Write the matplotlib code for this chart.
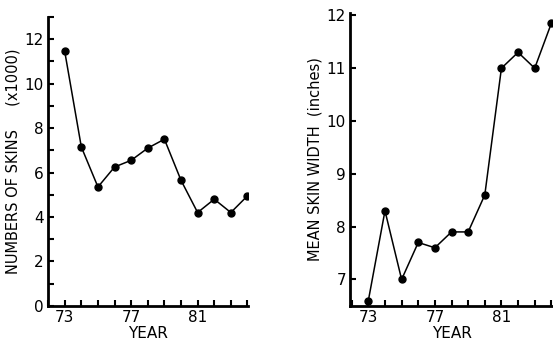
import matplotlib
matplotlib.use("Agg")
import matplotlib.pyplot as plt
from matplotlib.ticker import MultipleLocator, FixedLocator

plt.rcParams['font.family'] = ['DejaVu Sans']

years = [73, 74, 75, 76, 77, 78, 79, 80, 81, 82, 83, 84]
skins = [11.45, 7.15, 5.35, 6.25, 6.55, 7.1, 7.5, 5.65, 4.2, 4.8, 4.2, 4.95]
width = [6.6, 8.3, 7.0, 7.7, 7.6, 7.9, 7.9, 8.6, 11.0, 11.3, 11.0, 11.85]
year_labels = [73, 77, 81]

fig = plt.figure(figsize=(5.53, 3.54), dpi=100)
ax1 = fig.add_axes([0.087, 0.136, 0.362, 0.816])
ax2 = fig.add_axes([0.633, 0.136, 0.37, 0.828])

for ax in (ax1, ax2):
    for s in ("top", "right"):
        ax.spines[s].set_visible(False)
    for s in ("left", "bottom"):
        ax.spines[s].set_linewidth(2.0)
    ax.xaxis.set_major_locator(FixedLocator(year_labels))
    ax.xaxis.set_minor_locator(MultipleLocator(1))
    ax.tick_params(which="both", direction="in", width=1.5, labelsize=11, pad=3,
                   length=4)
    ax.set_xlabel("YEAR", fontsize=11, labelpad=1)

ax1.plot(years, skins, color="black", lw=1.1, marker="o", ms=5)
ax1.set_xlim(72.0, 84.05)
ax1.set_ylim(0, 13)
ax1.yaxis.set_major_locator(MultipleLocator(2))
ax1.yaxis.set_minor_locator(MultipleLocator(1))
ax1.set_ylabel("NUMBERS OF SKINS     (x1000)", fontsize=10.5, labelpad=3)

ax2.plot(years, width, color="black", lw=1.1, marker="o", ms=5, clip_on=False)
ax2.set_xlim(71.9, 84.2)
ax2.set_ylim(6.5, 12.05)
ax2.yaxis.set_major_locator(MultipleLocator(1))
ax2.set_ylabel("MEAN SKIN WIDTH  (inches)", fontsize=10.5, labelpad=3)

fig.savefig("out.png", dpi=100)
